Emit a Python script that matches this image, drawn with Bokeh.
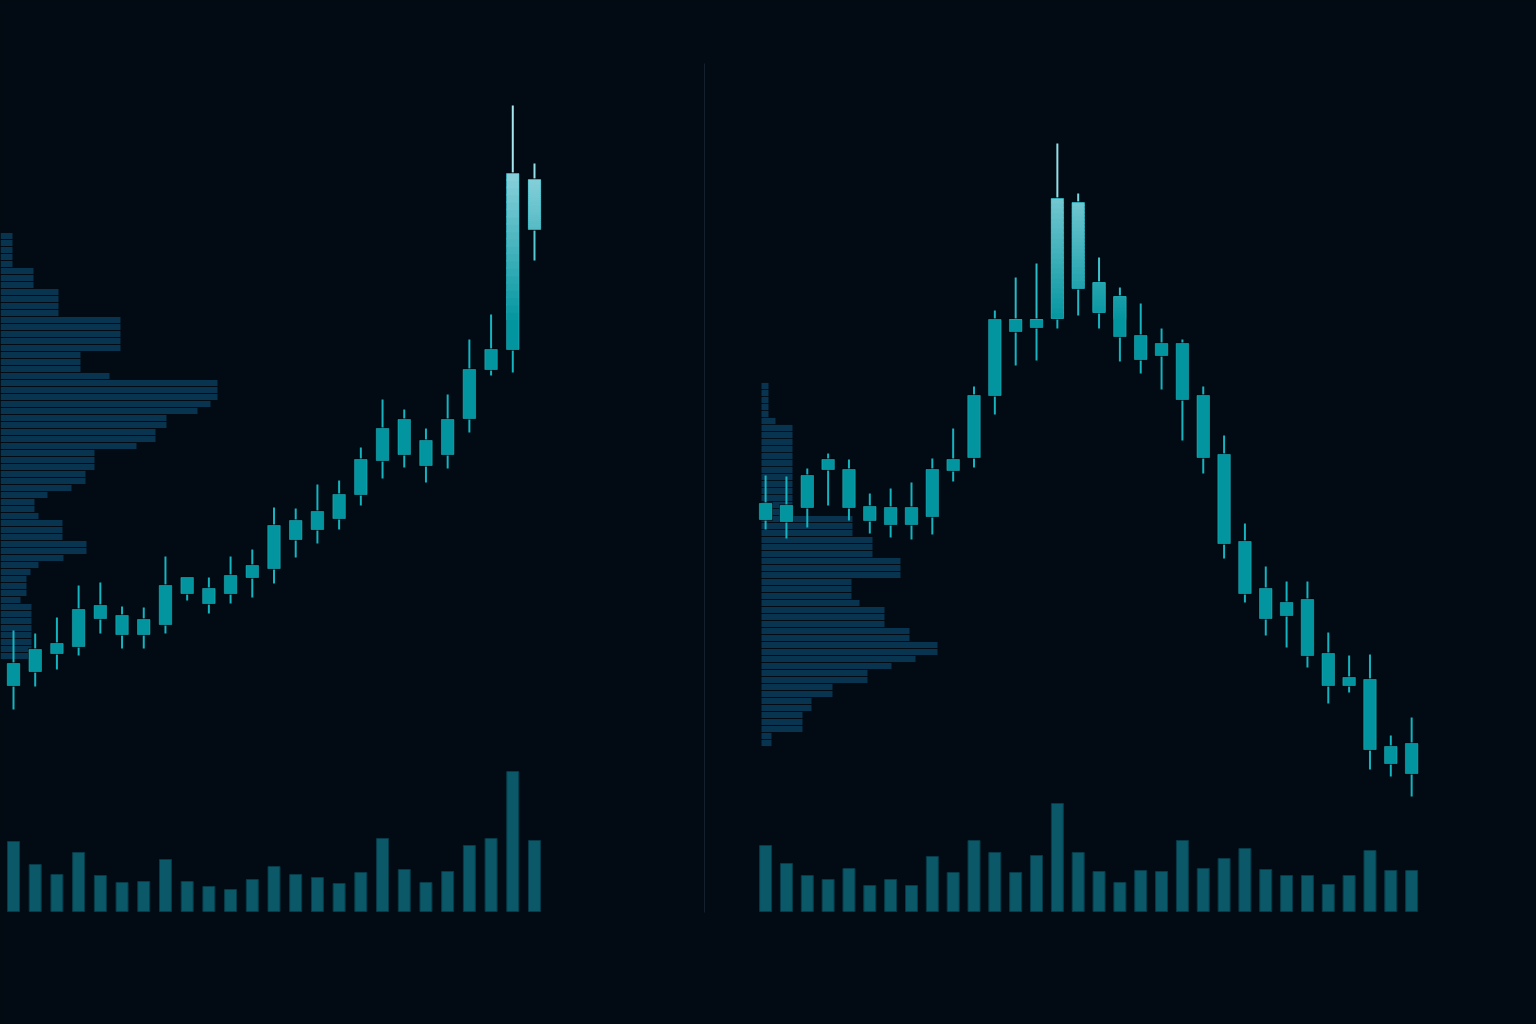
import numpy as np
from bokeh.plotting import figure
from bokeh.layouts import row
from bokeh.models import Range1d
from bokeh.embed import file_html
from bokeh.resources import INLINE

# ---------------- data (price units are arbitrary; no axes shown) ----------------
left_open  = [315, 329, 347, 354, 382, 385, 366, 376, 423, 412, 407, 423, 432, 461, 471, 482, 506, 540, 581, 535, 546, 582, 631, 651, 821]
left_high  = [370, 367, 383, 415, 418, 394, 393, 444, 423, 423, 444, 451, 493, 492, 516, 520, 553, 601, 591, 572, 606, 661, 686, 895, 837]
left_low   = [291, 314, 331, 345, 367, 352, 352, 367, 400, 387, 397, 403, 417, 443, 457, 471, 495, 522, 533, 518, 532, 568, 625, 628, 740]
left_close = [337, 351, 357, 391, 395, 366, 381, 415, 407, 397, 425, 435, 475, 480, 489, 506, 541, 572, 546, 560, 581, 631, 651, 827, 771]
left_volume = [70, 47, 37, 59, 36, 29, 30, 52, 30, 25, 22, 32, 45, 37, 34, 28, 39, 73, 42, 29, 40, 66, 73, 140, 71]
left_profile = [12, 12, 12, 12, 12, 33, 33, 33, 58, 58, 58, 58, 120, 120, 120, 120, 120,
                80, 80, 80, 109, 217, 217, 217, 210, 197, 166, 166, 155, 155, 136,
                94, 94, 94, 85, 85, 71, 47, 34, 34, 38, 62, 62, 62, 86, 86, 63, 38, 30,
                26, 26, 26, 20, 31, 31, 31, 31, 31, 31, 31, 28]
left_profile_top = 764.5

right_open  = [481, 495, 493, 531, 531, 494, 476, 493, 484, 530, 543, 605, 681, 673, 682, 798, 718, 704, 665, 657, 657, 605, 546, 459, 412, 398, 401, 347, 323, 321, 254, 227]
right_high  = [525, 524, 532, 547, 541, 507, 512, 518, 542, 572, 614, 690, 723, 737, 857, 807, 743, 713, 697, 672, 661, 614, 565, 477, 434, 419, 419, 368, 345, 346, 265, 283]
right_low   = [471, 462, 473, 495, 480, 467, 463, 461, 466, 519, 533, 586, 635, 640, 672, 685, 672, 639, 627, 611, 560, 527, 442, 398, 365, 353, 333, 297, 308, 231, 224, 204]
right_close = [497, 479, 525, 541, 493, 480, 493, 476, 531, 541, 605, 681, 669, 681, 802, 712, 688, 664, 641, 645, 601, 543, 457, 407, 382, 385, 345, 315, 315, 251, 237, 257]
right_volume = [66, 48, 36, 32, 43, 26, 32, 26, 55, 39, 71, 59, 39, 56, 108, 59, 40, 29, 41, 40, 71, 43, 53, 63, 42, 36, 36, 27, 36, 61, 41, 41]
right_profile = [7, 7, 7, 7, 7, 14, 31, 31, 31, 31, 31, 31, 31, 31, 31, 31, 31, 31, 31,
                 91, 91, 91, 111, 111, 111, 139, 139, 139, 90, 90, 90, 98, 123, 123, 123,
                 148, 148, 176, 176, 154, 130, 106, 106, 71, 71, 50, 50, 41, 41, 41, 10, 10]
right_profile_top = 614.5
profile_bin = 7.0

# ---------------- styling ----------------
BG = "#020a13"
BODY = "#03959f"
BODY_LIGHT = "#9fdbe5"
WICK = "#14b4c0"
WICK_LIGHT = "#a6e6ef"
VOL_FILL = "#0a5868"
VOL_LINE = "#063c49"
PROF_FILL = "#0a3753"


def mix(c1, c2, t):
    a = [int(c1[i:i + 2], 16) for i in (1, 3, 5)]
    b = [int(c2[i:i + 2], 16) for i in (1, 3, 5)]
    return "#%02x%02x%02x" % tuple(int(round(a[k] + (b[k] - a[k]) * t)) for k in range(3))


def glow(p):
    return float(np.clip((p - 680.0) / 170.0, 0.0, 1.0))


def panel(width, px0, step, prof_range, opens, highs, lows, closes, vols, prof, prof_top):
    p = figure(width=width, height=1024,
               x_range=Range1d(-px0 / step, (width - px0) / step),
               y_range=Range1d(-24, 1000),
               toolbar_location=None, output_backend="svg",
               x_axis_location=None, y_axis_location=None,
               min_border=0, background_fill_color=BG, border_fill_color=BG,
               outline_line_color=None)
    p.grid.visible = False
    p.extra_x_ranges = {"prof": prof_range}
    p.extra_y_ranges = {"vol": Range1d(-113, 911)}

    # volume profile
    levels = [prof_top - profile_bin * i for i in range(len(prof))]
    p.hbar(y=levels, left=0, right=prof, height=profile_bin - 0.8, x_range_name="prof",
           fill_color=PROF_FILL, fill_alpha=0.95, line_color=None)

    idx = list(range(len(opens)))
    # volume bars
    p.vbar(x=idx, top=vols, bottom=0, width=12.0 / step, y_range_name="vol",
           fill_color=VOL_FILL, line_color=VOL_LINE, line_width=1)

    # wicks
    bt = [max(o, c) for o, c in zip(opens, closes)]
    bb = [min(o, c) for o, c in zip(opens, closes)]
    uc = [mix(WICK, WICK_LIGHT, glow((h + t) / 2)) for h, t in zip(highs, bt)]
    lc = [mix(WICK, WICK_LIGHT, glow((l + b) / 2)) for l, b in zip(lows, bb)]
    p.segment(x0=idx, y0=bt, x1=idx, y1=highs, line_color=uc, line_width=2)
    p.segment(x0=idx, y0=lows, x1=idx, y1=bb, line_color=lc, line_width=2)

    # body shadow
    hw = 6.25 / step
    p.quad(left=[i - hw - 1.0 / step for i in idx], right=[i + hw + 1.0 / step for i in idx],
           bottom=[b - 1.2 for b in bb], top=[t + 1.2 for t in bt],
           fill_color="#010a10", fill_alpha=0.8, line_color=None)
    # solid bodies
    p.quad(left=[i - hw for i in idx], right=[i + hw for i in idx], bottom=bb, top=bt,
           fill_color=BODY, line_color=None)
    # gradient overlay (only where the body reaches the bright zone), overlapping slices
    n = 24
    L, R, B, T, C = [], [], [], [], []
    for i, b, t in zip(idx, bb, bt):
        if glow(t) <= 0:
            continue
        for k in range(n):
            y0 = b + (t - b) * k / n
            y1 = b + (t - b) * (k + 1) / n
            g = glow((y0 + y1) / 2)
            if g <= 0:
                continue
            L.append(i - hw)
            R.append(i + hw)
            B.append(y0)
            T.append(min(t, y1 + 1.5))
            C.append(mix(BODY, BODY_LIGHT, g))
    p.quad(left=L, right=R, bottom=B, top=T, fill_color=C, line_color=None)
    p.quad(left=[i - hw for i in idx], right=[i + hw for i in idx], bottom=bb, top=bt,
           fill_color=None, line_color="#2cc8d4", line_alpha=0.45, line_width=1)
    return p


left_fig = panel(705, 13.0, 21.708, Range1d(0, 705),
                 left_open, left_high, left_low, left_close, left_volume,
                 left_profile, left_profile_top)
# divider between panels
left_fig.segment(x0=[704.5], y0=[937], x1=[704.5], y1=[88], x_range_name="prof",
                 line_color="#24384a", line_width=1)

right_fig = panel(831, 60.1, 20.84, Range1d(-56, 775),
                  right_open, right_high, right_low, right_close, right_volume,
                  right_profile, right_profile_top)

layout = row(left_fig, right_fig, spacing=0)

html = file_html(layout, INLINE, title="Candlestick panels")
html = html.replace("</head>",
                    "<style>html,body{margin:0;padding:0;background:#020a13;overflow:hidden;}</style></head>", 1)
open("out.html", "w").write(html)
